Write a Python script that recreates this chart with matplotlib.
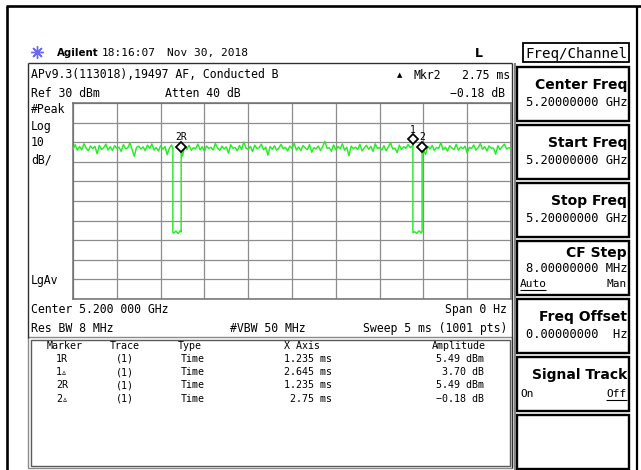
import numpy as np
import matplotlib
matplotlib.use("Agg")
import matplotlib.pyplot as plt
from matplotlib.patches import Rectangle
from matplotlib.transforms import offset_copy

# ---------------------------------------------------------------- data
SWEEP_MS = 5.0
REF_DBM = 30.0
DB_PER_DIV = 10.0
N_DIV = 10

# zero-span trace, sampled every 0.025 ms (dBm)
trace_dbm = [
    6.4, 8.7, 5.9, 7.8, 6.1, 9.2, 7.0, 5.6, 8.1, 6.7, 7.9, 4.1, 8.4, 6.3, 7.2, 9.0, 6.0, 7.7, 5.8, 8.3,
    6.9, 7.5, 5.3, 8.8, 6.6, 7.1, 9.6, 6.2, 2.8, 7.4, 8.0, 6.5, 7.6, 5.7, 8.5, 6.8, 9.1, 6.0, 7.3, 5.5,
    8.2, 6.4, 7.8, 3.6, 7.0, 8.6, -36.4, -35.3, -36.6, -35.1, 2.9, 7.9, 6.3, 8.4, 5.9, 7.2, 6.6, 9.0, 6.1, 7.7,
    5.4, 8.1, 6.8, 7.4, 6.0, 9.3, 7.1, 5.8, 8.0, 6.5, 7.6, 4.4, 8.7, 6.9, 7.3, 5.6, 8.3, 6.2, 10.1, 7.0,
    6.3, 7.9, 5.2, 8.5, 6.7, 7.2, 9.0, 6.1, 7.5, 3.4, 7.8, 6.4, 8.2, 5.9, 7.0, 8.9, 6.6, 7.4, 5.5, 8.0,
    6.8, 9.4, 6.0, 7.6, 5.7, 8.3, 7.1, 6.2, 8.8, 4.9, 7.3, 6.5, 8.1, 5.8, 7.7, 10.4, 6.9, 7.2, 5.4, 8.6,
    6.1, 7.8, 6.6, 9.1, 5.9, 7.4, 3.1, 8.0, 6.7, 7.5, 6.2, 8.9, 5.6, 7.1, 8.4, 6.4, 7.9, 5.3, 9.2, 6.8,
    7.3, 6.0, 8.2, 5.7, 7.6, 9.8, 6.5, 7.0, 4.7, 8.5, 6.3, 7.7, 6.9, 8.8, 7.2, 8.1, -35.7, -36.5, -35.2, -36.3,
    6.2, 3.8, 7.9, 6.6, 8.4, 5.8, 7.3, 6.9, 9.7, 6.1, 7.5, 5.5, 8.2, 7.0, 6.3, 8.9, 5.9, 7.6, 6.7, 8.0,
    4.5, 7.4, 6.8, 8.6, 6.0, 7.2, 9.3, 6.4, 7.7, 5.6, 8.1, 6.9, 7.0, 3.9, 8.3, 6.2, 7.8, 9.0, 6.5, 7.3,
    6.7,
]

# burst-gap edges: (time ms, level before, level after)
edge_ms = [1.14, 1.235, 3.88, 3.985]
edge_before_dbm = [7.2, -35.8, 9.19, -35.6]
edge_after_dbm = [-36.0, 5.49, -36.1, 5.31]

# marker table
marker_names = ["1R", "1\u25b5", "2R", "2\u25b5"]
marker_traces = ["(1)", "(1)", "(1)", "(1)"]
marker_types = ["Time", "Time", "Time", "Time"]
marker_x = [1.235, 2.645, 1.235, 2.75]
marker_amp = [5.49, 3.70, 5.49, -0.18]
marker_units = ["dBm", "dB", "dBm", "dB"]

# soft keys: (title, value line, left option, right option)
softkeys = [
    ("Center Freq", "5.20000000 GHz", None, None),
    ("Start Freq", "5.20000000 GHz", None, None),
    ("Stop Freq", "5.20000000 GHz", None, None),
    ("CF Step", "8.00000000 MHz", "Auto", "Man"),
    ("Freq Offset", "0.00000000  Hz", None, None),
    ("Signal Track", None, "On", "Off"),
    (None, None, None, None),
]

# ---------------------------------------------------------------- figure
W, H = 641, 470
DPI = 100
fig = plt.figure(figsize=(W / DPI, H / DPI), dpi=DPI)
fig.patch.set_facecolor("white")

bg = fig.add_axes([0, 0, 1, 1])
bg.set_xlim(0, W)
bg.set_ylim(H, 0)
bg.axis("off")

MONO = ["DejaVu Sans Mono", "DejaVu Sans"]
SANS = ["DejaVu Sans"]


def txt(x, yc, s, size=8.3, ha="left", weight="normal", family=MONO, color="black"):
    """Place text so that its capital letters are centred on pixel row yc."""
    base = yc + 0.365 * size * DPI / 72.0
    bg.text(x, base, s, ha=ha, va="baseline", fontsize=size, fontweight=weight,
            family=family, color=color)


def hline(x0, x1, y, lw=1.0, color="black"):
    bg.plot([x0, x1], [y, y], color=color, lw=lw, solid_capstyle="butt")


def vline(x, y0, y1, lw=1.0, color="black"):
    bg.plot([x, x], [y0, y1], color=color, lw=lw, solid_capstyle="butt")


# outer frame
hline(6, W, 6, lw=1.9)
vline(7, 6, H, lw=1.9)
vline(637, 6, H, lw=1.6)

# title row
bg.plot([37], [52], marker=(8, 2, 0), ms=9, mew=1.0, color="#6a6af0")
txt(57, 52, "Agilent", size=7.4, weight="bold", family=SANS)
txt(102, 52, "18:16:07", size=8.0)
txt(167, 52, "Nov 30, 2018", size=8.0)
txt(479, 52, "L", size=9.0, weight="bold", family=SANS, ha="center")

# screen frame
hline(28, 512, 63, lw=1.0, color="#303030")
vline(28, 63, 338, lw=1.0, color="#303030")
vline(512, 63, 468, lw=1.0, color="#303030")
vline(514.5, 63, H, lw=1.4, color="#808080")

# header annotations
txt(31, 74, "APv9.3(113018),19497 AF, Conducted B")
txt(31, 93, "Ref 30 dBm")
txt(165, 93, "Atten 40 dB")
txt(400, 75, "\u25b2", size=5.0, family=SANS, ha="center")
txt(413, 75, "Mkr2")
txt(510, 75, "2.75 ms", ha="right")
txt(505, 93, "\u22120.18 dB", ha="right")
txt(31, 109, "#Peak")
txt(31, 126, "Log")
txt(31, 142, "10")
txt(31, 159, "dB/")
txt(31, 280, "LgAv")
txt(31, 309, "Center 5.200 000 GHz")
txt(31, 328, "Res BW 8 MHz")
txt(230, 328, "#VBW 50 MHz")
txt(507, 309, "Span 0 Hz", ha="right")
txt(507, 328, "Sweep 5 ms (1001 pts)", ha="right")

# marker table
for off, col in ((0, "#8a8a8a"), (2.5, "#5a5a5a")):
    bg.add_patch(Rectangle((28 + off, 337 + off), 484 - 2 * off, 131 - 2 * off,
                           fill=False, edgecolor=col, lw=1.0))
TS = 7.2
txt(65, 345, "Marker", size=TS, ha="center")
txt(125, 345, "Trace", size=TS, ha="center")
txt(190, 345, "Type", size=TS, ha="center")
txt(302, 345, "X Axis", size=TS, ha="center")
txt(459, 345, "Amplitude", size=TS, ha="center")
for i, (nm, tr, ty, xv, av, un) in enumerate(zip(marker_names, marker_traces, marker_types,
                                                  marker_x, marker_amp, marker_units)):
    y = 358 + i * 13.4
    txt(62, y, nm, size=TS, ha="center")
    txt(125, y, tr, size=TS, ha="center")
    txt(193, y, ty, size=TS, ha="center")
    txt(332, y, f"{xv:g} ms", size=TS, ha="right")
    amp = f"{av:.2f}".replace("-", "\u2212")
    txt(484, y, f"{amp} {un}", size=TS, ha="right")

# soft keys
bg.add_patch(Rectangle((523, 43), 106, 19, fill=False, edgecolor="black", lw=1.3))
txt(576, 52.5, "Freq/Channel", size=10.2, ha="center")
for k, (title, value, left, right) in enumerate(softkeys):
    top = 67 + 58 * k
    bg.add_patch(Rectangle((517, top), 112, 54, fill=False, edgecolor="black", lw=1.7))
    if title == "CF Step":
        ty, vy, oy = top + 11, top + 27, top + 42
    else:
        ty, vy, oy = top + 17, top + 35, top + 36
    if title:
        txt(627, ty, title, size=10.0, weight="bold", family=SANS, ha="right")
    if value:
        txt(627, vy, value, size=8.7, ha="right")
    if left:
        txt(520, oy, left, size=8.0)
        txt(627, oy, right, size=8.0, ha="right")
        # active option is underlined
        if title == "CF Step":
            hline(520, 546, oy + 6.5, lw=0.8)
        else:
            hline(606, 627, oy + 6.5, lw=0.8)

# ---------------------------------------------------------------- trace graticule
GX0, GX1, GY0, GY1 = 73, 511, 103, 299
ax = fig.add_axes([GX0 / W, 1 - GY1 / H, (GX1 - GX0) / W, (GY1 - GY0) / H])
ax.patch.set_alpha(0)
ax.set_xlim(0, SWEEP_MS)
ax.set_ylim(REF_DBM - N_DIV * DB_PER_DIV, REF_DBM)
ax.set_xticks(np.linspace(0, SWEEP_MS, N_DIV + 1))
ax.set_yticks(np.linspace(REF_DBM - N_DIV * DB_PER_DIV, REF_DBM, N_DIV + 1))
ax.tick_params(length=0, labelbottom=False, labelleft=False)
ax.grid(True, color="#8c8c8c", lw=0.9)
for sp in ax.spines.values():
    sp.set_color("#6e6e6e")
    sp.set_linewidth(1.1)

# assemble the trace with vertical edges at the burst gaps
t_samp = np.linspace(0, SWEEP_MS, len(trace_dbm))
t_all = np.concatenate([t_samp, np.repeat(edge_ms, 2)])
v_all = np.concatenate([trace_dbm, np.ravel(np.column_stack([edge_before_dbm, edge_after_dbm]))])
order = np.argsort(t_all, kind="stable")
ax.plot(t_all[order], v_all[order], color="#22ee22", lw=1.05, zorder=3, clip_on=True)

# markers: reference marker and the two delta markers
ref_t, ref_a = marker_x[2], marker_amp[2]
pts = [
    (ref_t, ref_a, "2R"),
    (ref_t + marker_x[1], ref_a + marker_amp[1], "1"),
    (ref_t + marker_x[3], ref_a + marker_amp[3], "2"),
]
# symbol sits just above its point, label above the symbol (offsets in dots)
sym = offset_copy(ax.transData, fig=fig, x=0, y=4.5, units="dots")
lab = offset_copy(ax.transData, fig=fig, x=0, y=14.0, units="dots")
for t, a, name in pts:
    ax.plot([t], [a], marker="D", ms=5.2, mfc="white", mec="black", mew=1.3,
            transform=sym, zorder=5, clip_on=False)
    ax.text(t, a, name, transform=lab, ha="center", va="center", fontsize=7.0,
            family=MONO, zorder=5)

fig.savefig("out.png", dpi=DPI)
